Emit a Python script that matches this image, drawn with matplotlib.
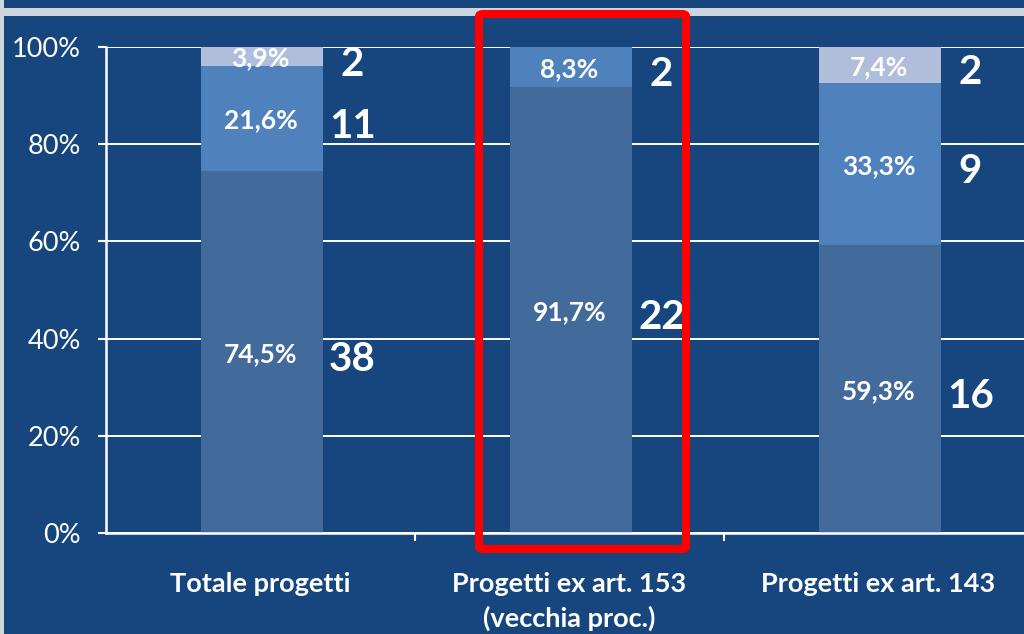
import numpy as np
import matplotlib.pyplot as plt
from matplotlib.patches import Rectangle, FancyBboxPatch

plt.rcParams['font.family'] = ['Lato', 'DejaVu Sans']

categories = ["Totale progetti", "Progetti ex art. 153\n(vecchia proc.)", "Progetti ex art. 143"]
pct_low = [74.5, 91.7, 59.3]
pct_mid = [21.6, 8.3, 33.3]
pct_top = [3.9, 0.0, 7.4]
cnt_low = [38, 22, 16]
cnt_mid = [11, 2, 9]
cnt_top = [2, None, 2]

BG = '#17467f'
colors = ['#426b9c', '#4f81bd', '#b0bedb']

fig = plt.figure(figsize=(10.24, 6.34), dpi=100, facecolor=BG)
# frame decorations
fig.patches.append(Rectangle((0, 0), 4 / 1024, 1, transform=fig.transFigure,
                             facecolor='#cdd6df', edgecolor='none', zorder=0))
fig.patches.append(Rectangle((4 / 1024, 1 - 16 / 634), 1, 8 / 634, transform=fig.transFigure,
                             facecolor='#cdd6df', edgecolor='none', zorder=0))

ax = fig.add_axes([106 / 1024, 101 / 634, 927 / 1024, 486 / 634])
ax.set_facecolor(BG)

x = np.arange(len(categories))
w = 0.395
ax.bar(x + 0.005, pct_low, w, color=colors[0], zorder=2)
ax.bar(x + 0.005, pct_mid, w, bottom=pct_low, color=colors[1], zorder=2)
ax.bar(x + 0.005, pct_top, w, bottom=np.add(pct_low, pct_mid), color=colors[2], zorder=2)

ax.set_xlim(-0.5, 2.5)
ax.set_ylim(0, 100)
ax.set_yticks(np.arange(0, 101, 20))
ax.set_yticklabels([f"{v}%" for v in range(0, 101, 20)], color='white', fontsize=19.5)
ax.yaxis.grid(True, color='white', linewidth=1.4, zorder=1)
ax.set_axisbelow(True)

ax.set_xticks([0.5, 1.5])
ax.set_xticks(x, minor=True)
ax.set_xticklabels([])
ax.set_xticklabels(categories, minor=True, color='white', fontsize=19.5,
                   fontweight='bold', linespacing=1.45)
ax.tick_params(axis='x', which='major', direction='out', length=6, width=1.5, color='white')
ax.tick_params(axis='x', which='minor', length=0, pad=28)
ax.tick_params(axis='y', direction='out', length=6, width=1.5, color='white', pad=12)

for s in ['top', 'right']:
    ax.spines[s].set_visible(False)
for s in ['left', 'bottom']:
    ax.spines[s].set_color('white')
    ax.spines[s].set_linewidth(1.8)

def label(i, base, val, cnt):
    if not val:
        return
    yc = base + val / 2
    ax.text(x[i], yc - 0.4, f"{val:.1f}%".replace('.', ','), ha='center', va='center',
            color='white', fontsize=19, fontweight='bold', zorder=3)
    ax.text(x[i] + w / 2 + 0.1, yc - 1.6, str(cnt), ha='center', va='center',
            color='white', fontsize=29, fontweight='bold', zorder=3)

for i in range(len(categories)):
    label(i, 0, pct_low[i], cnt_low[i])
    label(i, pct_low[i], pct_mid[i], cnt_mid[i])
    label(i, pct_low[i] + pct_mid[i], pct_top[i], cnt_top[i])

# highlight box
fig.patches.append(FancyBboxPatch((479 / 1024, 85 / 634), 207 / 1024, 535 / 634,
                                  boxstyle='round,pad=0,rounding_size=0.004',
                                  transform=fig.transFigure, facecolor='none',
                                  edgecolor='#ff0000', linewidth=5.8, zorder=5))

fig.savefig('out.png', dpi=100, facecolor=BG)
